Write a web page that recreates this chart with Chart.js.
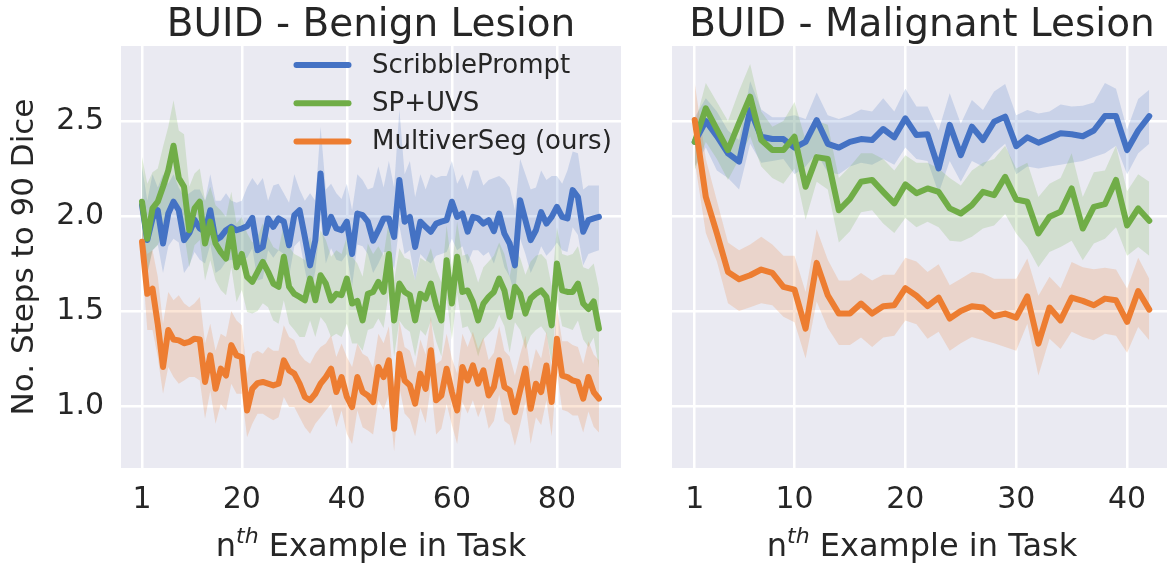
<!DOCTYPE html>
<html>
<head>
<meta charset="utf-8">
<script src="https://cdn.jsdelivr.net/npm/chart.js@4.4.1/dist/chart.umd.min.js"></script>
<style>
  html, body { margin: 0; padding: 0; background: #fff; overflow: hidden; }
  #wrap { position: relative; width: 1167px; height: 569px; overflow: hidden; }
  #benign { position: absolute; left: 0; top: 0; }
  #malignant { position: absolute; left: 640px; top: 0; }
</style>
</head>
<body>
<div id="wrap">
  <canvas id="benign" width="640" height="569"></canvas>
  <canvas id="malignant" width="540" height="569"></canvas>
</div>
<script>
  // Series names and tick labels
  const seriesLabels = ['ScribblePrompt', 'SP+UVS', 'MultiverSeg (ours)'];
  const yTicks = [1.0, 1.5, 2.0, 2.5];
  const benignXTicks = [1, 20, 40, 60, 80];
  const malignantXTicks = [1, 10, 20, 30, 40];

  // BUID - Benign Lesion (examples 1..88)
  const benignSP = [2.057,1.873,1.987,2.03,1.855,2.013,2.075,2.03,1.873,1.91, 1.98,1.934,1.917,2.03,1.873,1.89,1.925,1.943,1.925,1.934, 1.946,1.99,1.82,1.837,1.987,1.943,1.987,1.97,1.846,2.004, 2.03,1.89,1.74,1.873,2.224,1.91,1.995,1.934,1.925,1.97, 1.80,2.013,2.004,1.97,1.87,1.925,1.987,1.987,1.89,2.19, 1.97,1.995,1.837,1.97,1.943,1.917,1.96,1.97,1.978,2.075, 1.995,2.013,1.917,1.995,1.987,1.96,1.978,1.92,2.013,1.907, 1.855,1.74,2.083,1.978,1.873,1.925,2.02,1.96,1.995,2.048, 1.995,1.987,2.136,2.10,1.917,1.978,1.987,1.995];
  const benignSPHi = [2.26,2.08,2.22,2.15,2.22,2.17,2.22,2.15,2.10,2.12, 2.14,2.14,2.08,2.22,2.08,2.08,2.12,2.08,2.07,2.08, 2.15,2.20,2.16,2.20,2.08,2.16,2.17,2.12,2.07,2.22, 2.14,2.08,2.12,2.08,2.47,2.14,2.17,2.12,2.09,2.17, 2.03,2.22,2.19,2.14,2.15,2.26,2.15,2.29,2.15,2.56, 2.22,2.29,2.10,2.22,2.14,2.22,2.20,2.21,2.21,2.29, 2.17,2.22,2.14,2.24,2.24,2.16,2.19,2.20,2.21,2.19, 2.15,2.03,2.30,2.22,2.14,2.15,2.24,2.19,2.21,2.21, 2.17,2.24,2.34,2.33,2.14,2.16,2.16,2.16];
  const benignSPLo = [1.86,1.70,1.82,1.85,1.70,1.84,1.88,1.86,1.70,1.74, 1.81,1.77,1.75,1.85,1.70,1.72,1.76,1.77,1.76,1.77, 1.78,1.83,1.66,1.67,1.82,1.78,1.82,1.80,1.68,1.84, 1.87,1.72,1.58,1.71,1.98,1.75,1.83,1.77,1.76,1.80, 1.63,1.85,1.84,1.80,1.70,1.75,1.81,1.81,1.72,1.95, 1.80,1.82,1.66,1.80,1.77,1.75,1.79,1.80,1.81,1.88, 1.82,1.84,1.75,1.82,1.82,1.79,1.81,1.75,1.84,1.73, 1.68,1.58,1.88,1.80,1.70,1.76,1.84,1.79,1.82,1.86, 1.82,1.81,1.94,1.90,1.74,1.80,1.81,1.82];

  const benignUVS = [2.075,1.88,2.04,2.075,2.154,2.24,2.37,2.20,2.154,1.925, 2.04,2.075,1.855,1.97,1.855,1.81,1.776,1.934,1.73,1.80, 1.68,1.653,1.706,1.758,1.706,1.644,1.627,1.785,1.627,1.59, 1.574,1.556,1.67,1.556,1.688,1.644,1.556,1.59,1.583,1.67, 1.539,1.553,1.45,1.59,1.60,1.653,1.60,1.80,1.45,1.644, 1.60,1.583,1.45,1.59,1.565,1.644,1.53,1.45,1.767,1.539, 1.785,1.60,1.608,1.547,1.45,1.539,1.574,1.60,1.67,1.608, 1.468,1.627,1.59,1.486,1.565,1.59,1.608,1.574,1.424,1.75, 1.608,1.60,1.60,1.644,1.539,1.51,1.55,1.407];
  const benignUVSHi = [2.31,2.17,2.23,2.25,2.365,2.47,2.61,2.45,2.43,2.154, 2.224,2.25,2.08,2.154,2.057,2.03,1.995,2.127,1.96,1.995, 1.91,1.86,1.89,1.96,1.89,1.837,1.82,1.96,1.837,1.80, 1.785,1.767,1.89,1.785,1.925,1.873,1.785,1.82,1.80,1.89, 1.785,1.75,1.68,1.855,1.80,1.84,1.79,1.98,1.66,1.83, 1.78,1.77,1.66,1.78,1.76,1.83,1.72,1.65,1.95,1.73, 1.97,1.79,1.80,1.74,1.65,1.73,1.76,1.79,1.86,1.80, 1.68,1.82,1.78,1.69,1.76,1.79,1.80,1.77,1.63,1.94, 1.80,1.79,1.80,1.84,1.73,1.72,1.75,1.62];
  const benignUVSLo = [1.864,1.69,1.82,1.846,1.916,1.995,2.083,1.96,1.91,1.73, 1.846,1.873,1.66,1.767,1.66,1.61,1.583,1.73,1.547,1.61, 1.495,1.487,1.50,1.54,1.52,1.45,1.433,1.556,1.433,1.40, 1.363,1.363,1.45,1.363,1.468,1.433,1.363,1.38,1.363,1.433, 1.328,1.328,1.29,1.40,1.41,1.46,1.41,1.60,1.26,1.45, 1.41,1.39,1.26,1.40,1.37,1.45,1.34,1.26,1.57,1.35, 1.59,1.41,1.42,1.36,1.26,1.35,1.38,1.41,1.48,1.42, 1.28,1.44,1.40,1.30,1.37,1.40,1.42,1.38,1.23,1.56, 1.42,1.41,1.40,1.45,1.35,1.31,1.36,1.20];

  const benignMVS = [1.864,1.59,1.617,1.43,1.205,1.40,1.35,1.345,1.33,1.337, 1.354,1.35,1.126,1.266,1.09,1.196,1.16,1.32,1.266,1.257, 0.976,1.09,1.12,1.126,1.117,1.108,1.117,1.24,1.187,1.17, 1.117,1.047,1.03,1.064,1.117,1.152,1.196,1.073,1.152,1.047, 0.994,1.152,1.073,1.055,1.02,1.205,1.152,1.24,0.88,1.275, 1.134,1.108,1.012,1.17,1.09,1.293,1.03,1.055,1.196,1.073, 0.976,1.205,1.134,1.213,1.117,1.187,1.055,1.10,1.24,1.10, 1.082,0.967,1.082,1.196,0.985,1.117,1.073,1.213,1.02,1.354, 1.16,1.152,1.134,1.126,1.038,1.152,1.073,1.038];
  const benignMVSHi = [1.93,1.80,1.82,1.68,1.433,1.60,1.556,1.583,1.54,1.52, 1.54,1.574,1.328,1.433,1.29,1.38,1.363,1.50,1.45,1.424, 1.17,1.275,1.29,1.275,1.31,1.29,1.29,1.424,1.363,1.345, 1.275,1.24,1.222,1.275,1.31,1.328,1.372,1.257,1.328,1.257, 1.205,1.328,1.275,1.257,1.20,1.38,1.33,1.42,1.08,1.45, 1.31,1.29,1.20,1.35,1.27,1.47,1.22,1.24,1.38,1.25, 1.17,1.38,1.31,1.39,1.30,1.36,1.24,1.28,1.42,1.29, 1.26,1.16,1.27,1.37,1.18,1.30,1.25,1.39,1.20,1.52, 1.34,1.34,1.32,1.31,1.22,1.34,1.27,1.24];
  const benignMVSLo = [1.78,1.40,1.40,1.257,1.064,1.205,1.152,1.117,1.134,1.152, 1.152,1.134,0.932,1.08,0.906,1.01,0.976,1.117,1.064,1.064, 0.835,0.906,0.958,0.958,0.94,0.924,0.94,1.047,0.994,0.994, 0.94,0.888,0.853,0.906,0.94,0.976,1.01,0.888,0.976,0.853, 0.80,0.976,0.888,0.87,0.85,1.03,0.98,1.06,0.76,1.10, 0.96,0.93,0.84,0.99,0.91,1.11,0.85,0.88,1.01,0.90, 0.80,1.02,0.96,1.03,0.94,1.01,0.88,0.92,1.06,0.92, 0.90,0.79,0.90,1.02,0.80,0.94,0.90,1.03,0.84,1.18, 0.98,0.97,0.95,0.95,0.86,0.97,0.89,0.86];

  // BUID - Malignant Lesion (examples 1..42)
  const malignantSP = [2.39,2.50,2.42,2.33,2.286,2.558,2.417,2.405,2.405,2.36, 2.39,2.505,2.38,2.36,2.39,2.405,2.40,2.458,2.414,2.514, 2.426,2.43,2.25,2.48,2.32,2.47,2.40,2.496,2.523,2.368, 2.414,2.386,2.41,2.435,2.43,2.42,2.45,2.526,2.526,2.347, 2.45,2.526];
  const malignantSPHi = [2.52,2.62,2.55,2.45,2.40,2.71,2.56,2.52,2.52,2.53, 2.51,2.65,2.53,2.51,2.53,2.56,2.55,2.62,2.55,2.67, 2.576,2.576,2.45,2.646,2.486,2.611,2.558,2.655,2.695,2.53, 2.558,2.54,2.55,2.587,2.576,2.58,2.597,2.70,2.67,2.455, 2.616,2.665];
  const malignantSPLo = [2.26,2.36,2.24,2.20,2.14,2.38,2.28,2.29,2.30,2.22, 2.26,2.33,2.23,2.22,2.26,2.28,2.27,2.30,2.27,2.36, 2.30,2.29,2.12,2.29,2.18,2.29,2.26,2.33,2.38,2.22, 2.26,2.25,2.26,2.27,2.28,2.29,2.31,2.33,2.37,2.22, 2.33,2.38];

  const malignantUVS = [2.39,2.567,2.456,2.347,2.49,2.628,2.40,2.347,2.347,2.417, 2.154,2.31,2.30,2.03,2.09,2.18,2.19,2.127,2.066,2.166, 2.12,2.145,2.127,2.04,2.013,2.057,2.127,2.11,2.206,2.087, 2.075,1.908,1.996,2.022,2.145,1.934,2.048,2.062,2.19,1.95, 2.04,1.975];
  const malignantUVSHi = [2.48,2.70,2.60,2.50,2.66,2.80,2.55,2.47,2.50,2.60, 2.40,2.50,2.48,2.20,2.26,2.33,2.33,2.30,2.24,2.32, 2.28,2.28,2.25,2.20,2.16,2.24,2.28,2.30,2.37,2.25, 2.28,2.10,2.17,2.20,2.33,2.10,2.23,2.24,2.37,2.13, 2.22,2.18];
  const malignantUVSLo = [2.24,2.39,2.30,2.19,2.30,2.42,2.26,2.20,2.17,2.25, 1.98,2.18,2.14,1.86,1.92,2.02,2.03,1.96,1.91,1.99, 1.94,1.97,1.94,1.87,1.864,1.89,1.934,1.95,2.01,1.908, 1.837,1.73,1.81,1.837,1.87,1.767,1.855,1.88,1.94,1.79, 1.837,1.79];

  const malignantMVS = [2.505,2.10,1.908,1.705,1.667,1.688,1.718,1.70,1.627,1.612, 1.407,1.753,1.583,1.486,1.486,1.539,1.486,1.525,1.53,1.62, 1.58,1.525,1.57,1.46,1.50,1.525,1.518,1.472,1.486,1.465, 1.577,1.328,1.518,1.45,1.57,1.553,1.53,1.565,1.556,1.442, 1.605,1.507];
  const malignantMVSHi = [2.70,2.30,2.08,1.86,1.82,1.85,1.89,1.85,1.79,1.79, 1.60,1.93,1.77,1.66,1.66,1.70,1.66,1.69,1.69,1.78, 1.76,1.705,1.746,1.635,1.67,1.705,1.697,1.67,1.67,1.67, 1.776,1.58,1.68,1.62,1.758,1.73,1.72,1.728,1.718,1.618, 1.78,1.67];
  const malignantMVSLo = [2.29,1.91,1.76,1.54,1.50,1.52,1.54,1.53,1.47,1.44, 1.25,1.55,1.41,1.32,1.32,1.36,1.31,1.36,1.37,1.45, 1.43,1.354,1.39,1.29,1.33,1.363,1.345,1.33,1.31,1.29, 1.433,1.16,1.354,1.30,1.39,1.363,1.345,1.38,1.37,1.28, 1.415,1.345];

  const TEXT = '#262626';
  const FONT = 'DejaVu Sans';
  const colors = ['#4472C4', '#70AD47', '#ED7D31'];
  const bandColors = ['rgba(68,114,196,0.2)', 'rgba(112,173,71,0.2)', 'rgba(237,125,49,0.2)'];

  Chart.defaults.font.family = FONT;
  Chart.defaults.color = TEXT;

  function toPoints(arr) {
    return arr.map((v, i) => ({ x: i + 1, y: v }));
  }

  // upper band, lower band (filled to upper), then mean line
  function buildDatasets(series) {
    const sets = [];
    series.forEach((s, k) => {
      sets.push({
        data: toPoints(s.hi), borderColor: 'transparent', borderWidth: 0,
        pointRadius: 0, fill: false, order: 6 - k
      });
      sets.push({
        data: toPoints(s.lo), borderColor: 'transparent', borderWidth: 0,
        pointRadius: 0, fill: '-1', backgroundColor: bandColors[k], order: 6 - k
      });
      sets.push({
        label: seriesLabels[k], data: toPoints(s.mean), borderColor: colors[k],
        borderWidth: 6, pointRadius: 0, fill: false, tension: 0,
        borderCapStyle: 'round', borderJoinStyle: 'round', order: 3 - k
      });
    });
    return sets;
  }

  // grey plot background
  const plotBg = {
    id: 'plotBg',
    beforeDraw(chart) {
      const { ctx, chartArea: a } = chart;
      ctx.save();
      ctx.fillStyle = '#EAEAF2';
      ctx.fillRect(a.left, a.top, a.right - a.left, a.bottom - a.top);
      ctx.restore();
    }
  };

  // panel title, centred over the plot area
  function panelTitle(text) {
    return {
      id: 'panelTitle',
      afterDraw(chart) {
        const { ctx, chartArea: a } = chart;
        ctx.save();
        ctx.font = '39px "' + FONT + '"';
        ctx.fillStyle = TEXT;
        ctx.textAlign = 'center';
        ctx.textBaseline = 'alphabetic';
        ctx.fillText(text, (a.left + a.right) / 2, 36);
        ctx.restore();
      }
    };
  }

  // x axis title with superscript "th"
  const xTitle = {
    id: 'xTitle',
    afterDraw(chart) {
      const { ctx, chartArea: a } = chart;
      const size = 32;
      ctx.save();
      ctx.fillStyle = TEXT;
      ctx.textBaseline = 'alphabetic';
      ctx.textAlign = 'left';
      const base = size + 'px "' + FONT + '"';
      const sup = 'italic ' + Math.round(size * 0.7) + 'px "' + FONT + '"';
      ctx.font = base;
      const w1 = ctx.measureText('n').width;
      const w3 = ctx.measureText(' Example in Task').width;
      ctx.font = sup;
      const w2 = ctx.measureText('th').width;
      let x = (a.left + a.right) / 2 - (w1 + w2 + w3) / 2;
      const y = 556;
      ctx.font = base;
      ctx.fillText('n', x, y);
      x += w1;
      ctx.font = sup;
      ctx.fillText('th', x, y - size * 0.42);
      x += w2;
      ctx.font = base;
      ctx.fillText(' Example in Task', x, y);
      ctx.restore();
    }
  };

  // legend inside the left panel
  const insideLegend = {
    id: 'insideLegend',
    afterDraw(chart) {
      const ctx = chart.ctx;
      ctx.save();
      ctx.font = '26px "' + FONT + '"';
      ctx.textBaseline = 'middle';
      ctx.textAlign = 'left';
      seriesLabels.forEach((label, k) => {
        const y = 65 + k * 38.3;
        ctx.strokeStyle = colors[k];
        ctx.lineWidth = 6;
        ctx.lineCap = 'round';
        ctx.beginPath();
        ctx.moveTo(296.5, y);
        ctx.lineTo(348.5, y);
        ctx.stroke();
        ctx.fillStyle = TEXT;
        ctx.fillText(label, 372, y + 1);
      });
      ctx.restore();
    }
  };

  function makeChart(id, cfg) {
    const gridOpts = { color: '#ffffff', lineWidth: 2.5, drawTicks: false };
    const plugins = [plotBg, panelTitle(cfg.title), xTitle];
    if (cfg.legend) plugins.push(insideLegend);
    return new Chart(document.getElementById(id), {
      type: 'line',
      data: { datasets: buildDatasets(cfg.series) },
      plugins: plugins,
      options: {
        responsive: false,
        animation: false,
        devicePixelRatio: 1,
        layout: { padding: { left: 0, right: cfg.padRight, top: 46, bottom: 0 } },
        plugins: {
          legend: { display: false },
          tooltip: { enabled: false },
          title: { display: false }
        },
        scales: {
          x: {
            type: 'linear', min: cfg.xMin, max: cfg.xMax,
            afterBuildTicks: s => { s.ticks = cfg.xTicks.map(v => ({ value: v })); },
            afterFit: s => { s.height = 101; },
            grid: gridOpts,
            border: { display: false },
            ticks: { padding: 14, color: TEXT, font: { size: 30 }, callback: v => String(v) }
          },
          y: {
            min: 0.673, max: 2.895,
            afterBuildTicks: s => { s.ticks = yTicks.map(v => ({ value: v })); },
            afterFit: s => { s.width = cfg.yWidth; },
            grid: gridOpts,
            border: { display: false },
            ticks: { display: cfg.yLabels, padding: 17, color: TEXT, font: { size: 30 }, callback: v => v.toFixed(1) },
            title: {
              display: cfg.yLabels, text: 'No. Steps to 90 Dice', color: TEXT,
              font: { size: 31 }, padding: { top: 6, bottom: 0 }
            }
          }
        }
      }
    });
  }

  makeChart('benign', {
    title: 'BUID - Benign Lesion',
    series: [
      { mean: benignSP, hi: benignSPHi, lo: benignSPLo },
      { mean: benignUVS, hi: benignUVSHi, lo: benignUVSLo },
      { mean: benignMVS, hi: benignMVSHi, lo: benignMVSLo }
    ],
    xTicks: benignXTicks, xMin: -3.0, xMax: 92.2,
    yWidth: 121, yLabels: true, padRight: 19, legend: true
  });

  makeChart('malignant', {
    title: 'BUID - Malignant Lesion',
    series: [
      { mean: malignantSP, hi: malignantSPHi, lo: malignantSPLo },
      { mean: malignantUVS, hi: malignantUVSHi, lo: malignantUVSLo },
      { mean: malignantMVS, hi: malignantMVSHi, lo: malignantMVSLo }
    ],
    xTicks: malignantXTicks, xMin: -1.05, xMax: 44.05,
    yWidth: 32, yLabels: false, padRight: 8, legend: false
  });
</script>
</body>
</html>
